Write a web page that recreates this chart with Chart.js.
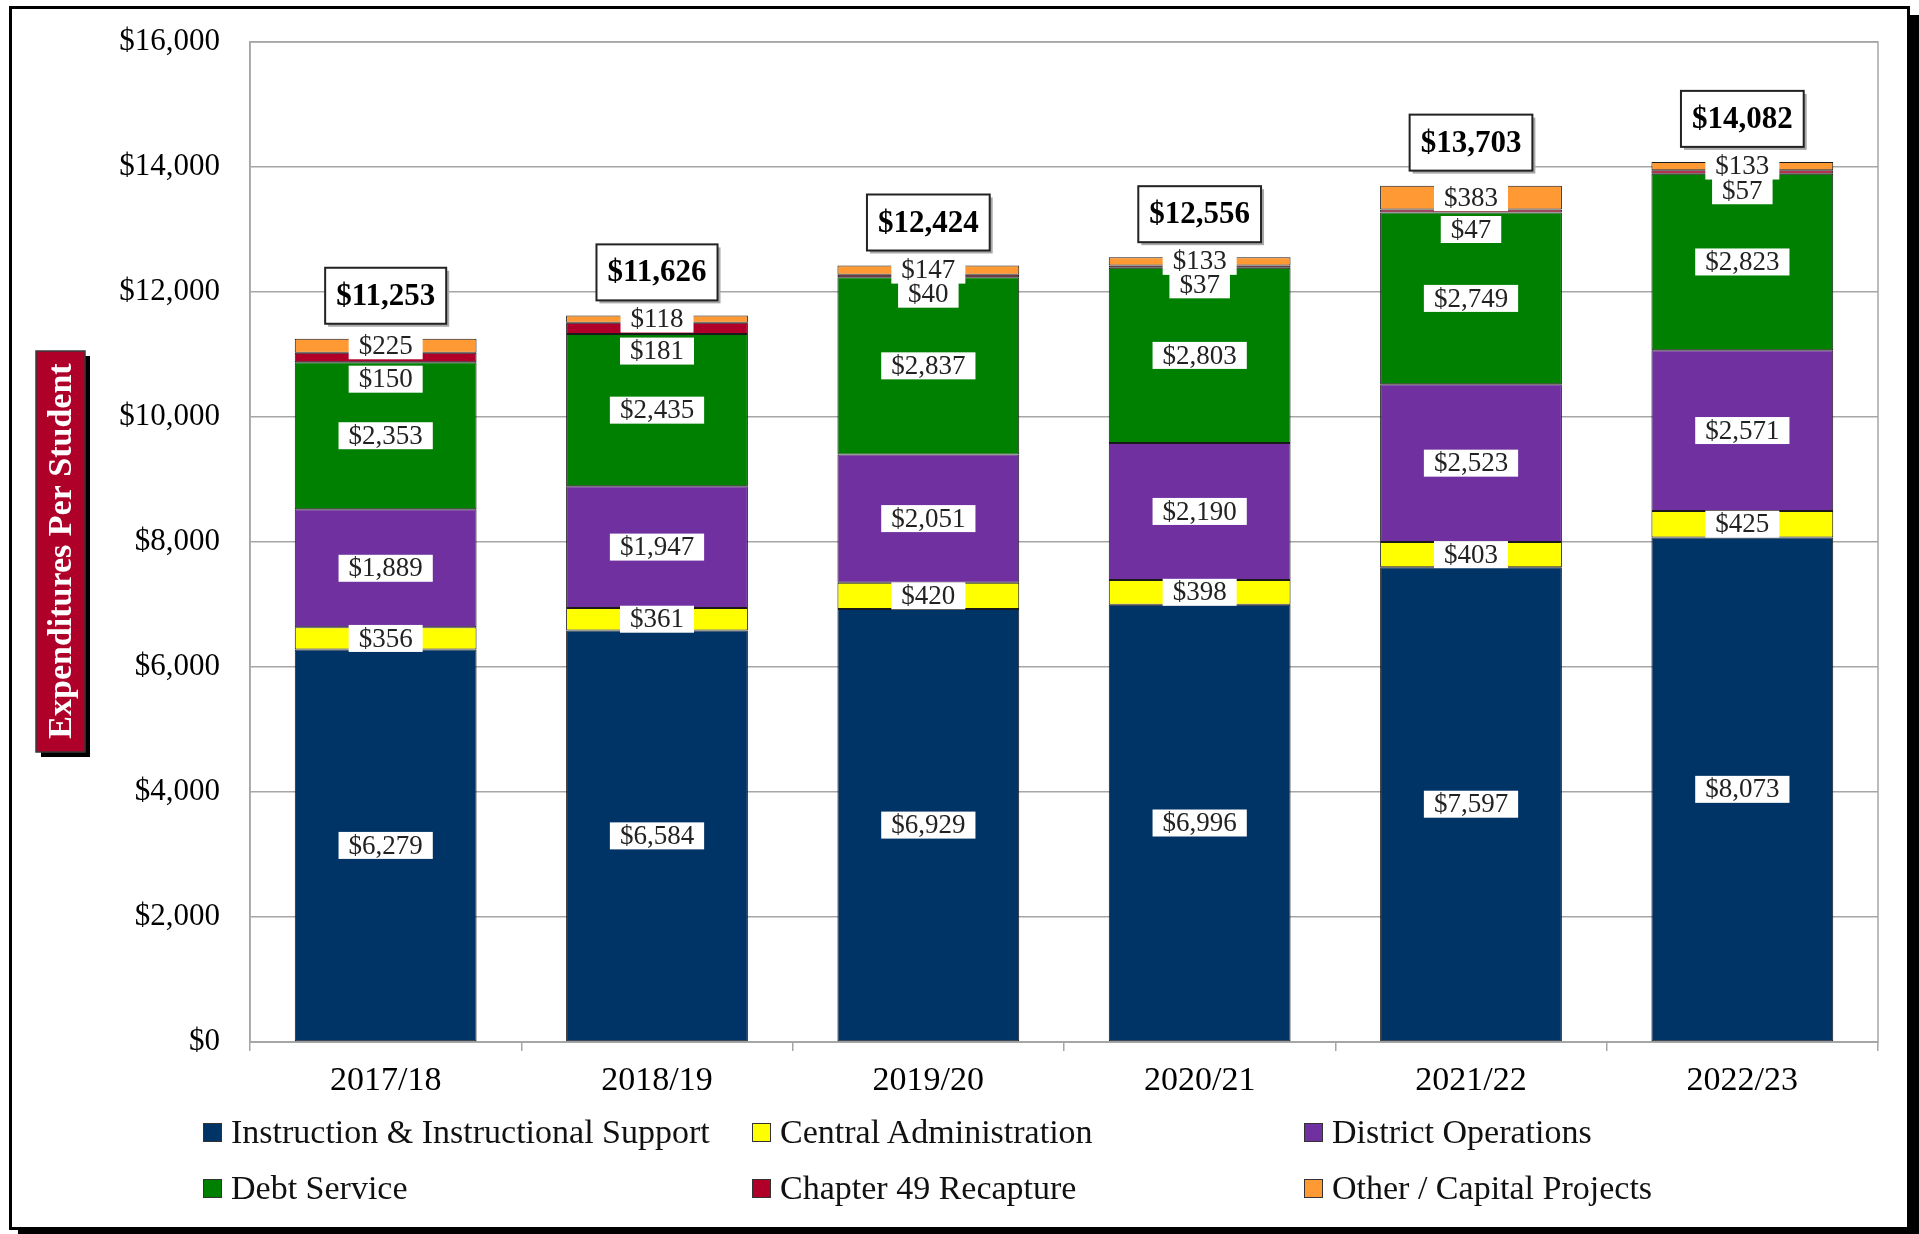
<!DOCTYPE html>
<html>
<head>
<meta charset="utf-8">
<script src="https://cdn.jsdelivr.net/npm/chart.js@4.4.1/dist/chart.umd.min.js"></script>
<style>
    html, body { margin: 0; padding: 0; background: #fff; }
    body { width: 1919px; height: 1234px; position: relative; overflow: hidden; font-family: 'Liberation Serif', serif; }
    #frame { position: absolute; left: 9px; top: 6px; width: 1901px; height: 1224px; box-sizing: border-box;
             border: 3px solid #000; box-shadow: 9px 9px 0 #000; background: #fff; }
    #mainChart { position: absolute; left: 0; top: 0; z-index: 1; }
    .legend-item { position: absolute; z-index: 2; display: flex; align-items: center; font-size: 34px; color: #111; white-space: nowrap; }
    .legend-item span.sw { display: inline-block; width: 17px; height: 17px; border: 1px solid #333; margin-right: 9px; }
</style>
</head>
<body>
<div id="frame"></div>
<canvas id="mainChart" width="1919" height="1234"></canvas>
<div id="legend"></div>
<script>
// Chart data
const years = ['2017/18', '2018/19', '2019/20', '2020/21', '2021/22', '2022/23'];
const instruction = [6279, 6584, 6929, 6996, 7597, 8073];
const centralAdmin = [356, 361, 420, 398, 403, 425];
const districtOps = [1889, 1947, 2051, 2190, 2523, 2571];
const debtService = [2353, 2435, 2837, 2803, 2749, 2823];
const recapture = [150, 181, 40, 37, 47, 57];
const otherCapital = [225, 118, 147, 133, 383, 133];
const totals = [11253, 11626, 12424, 12556, 13703, 14082];

const seriesNames = ['Instruction & Instructional Support', 'Central Administration', 'District Operations',
    'Debt Service', 'Chapter 49 Recapture', 'Other / Capital Projects'];
const seriesColors = ['#003366', '#ffff00', '#7030a0', '#008000', '#b0002a', '#ff9933'];
const seriesValues = [instruction, centralAdmin, districtOps, debtService, recapture, otherCapital];

const FONT = "'Liberation Serif', serif";
const fmt = v => '$' + v.toLocaleString('en-US');

// white boxed value labels + bold total boxes
const labelPlugin = {
    id: 'valueLabels',
    afterDatasetsDraw(chart) {
        const ctx = chart.ctx;
        ctx.save();
        ctx.textAlign = 'center';
        ctx.textBaseline = 'middle';
        ctx.font = '27px ' + FONT;
        chart.data.datasets.forEach((ds, i) => {
            const meta = chart.getDatasetMeta(i);
            meta.data.forEach((el, j) => {
                const text = fmt(ds.data[j]);
                let y = (el.y + el.base) / 2;
                if (i === 4) y = el.base + 17; // recapture label sits under its thin segment
                const w = ctx.measureText(text).width + 20;
                ctx.fillStyle = '#fff';
                ctx.fillRect(el.x - w / 2, y - 13.5, w, 27);
                ctx.fillStyle = '#222';
                ctx.fillText(text, el.x, y + 1);
            });
        });

        // totals
        const top = chart.getDatasetMeta(chart.data.datasets.length - 1);
        ctx.font = 'bold 31px ' + FONT;
        top.data.forEach((el, j) => {
            const text = fmt(totals[j]);
            const w = ctx.measureText(text).width + 22;
            const h = 56;
            const bx = el.x - w / 2, by = el.y - 15 - h;
            ctx.fillStyle = '#a8a8a8';
            ctx.fillRect(bx + 3, by + 3, w, h);
            ctx.fillStyle = '#fff';
            ctx.fillRect(bx, by, w, h);
            ctx.lineWidth = 2;
            ctx.strokeStyle = '#222';
            ctx.strokeRect(bx, by, w, h);
            ctx.fillStyle = '#000';
            ctx.fillText(text, el.x, by + h / 2 + 1);
        });
        ctx.restore();
    }
};

// plot frame and boxed axis title
const framePlugin = {
    id: 'plotFrame',
    beforeDatasetsDraw(chart) {
        const { ctx, chartArea: a } = chart;
        ctx.save();
        ctx.strokeStyle = '#a6a6a6';
        ctx.lineWidth = 1.5;
        ctx.strokeRect(a.left, a.top, a.right - a.left, a.bottom - a.top);
        ctx.restore();
    },
    afterDraw(chart) {
        const ctx = chart.ctx;
        ctx.save();
        ctx.fillStyle = '#000';
        ctx.fillRect(41, 356, 49, 401);
        ctx.fillStyle = '#ae0028';
        ctx.fillRect(36, 351, 49, 401);
        ctx.strokeStyle = '#3a3a3a';
        ctx.lineWidth = 1.5;
        ctx.strokeRect(36, 351, 49, 401);
        ctx.translate(61, 551);
        ctx.rotate(-Math.PI / 2);
        ctx.fillStyle = '#fff';
        ctx.font = 'bold 34px ' + FONT;
        ctx.textAlign = 'center';
        ctx.textBaseline = 'middle';
        ctx.fillText('Expenditures Per Student', 0, 1);
        ctx.restore();
    }
};

Chart.defaults.font.family = FONT;
Chart.defaults.color = '#000';

const ctx = document.getElementById('mainChart').getContext('2d');
const chart = new Chart(ctx, {
    type: 'bar',
    data: {
        labels: years,
        datasets: seriesNames.map((name, i) => ({
            label: name,
            data: seriesValues[i],
            backgroundColor: seriesColors[i],
            borderColor: '#1a1a1a',
            borderWidth: 1,
            borderSkipped: false,
            barPercentage: 0.67,
            categoryPercentage: 1
        }))
    },
    options: {
        responsive: false,
        animation: false,
        devicePixelRatio: 1,
        layout: { padding: { left: 0, top: 42, right: 41, bottom: 132 } },
        plugins: { legend: { display: false }, tooltip: { enabled: false } },
        scales: {
            x: {
                stacked: true,
                afterFit: s => { s.height = 60; },
                grid: { drawOnChartArea: false, drawTicks: true, tickLength: 9, color: '#a6a6a6', lineWidth: 1.5 },
                border: { color: '#a6a6a6', width: 2 },
                ticks: { font: { size: 34 }, padding: 10, color: '#000' }
            },
            y: {
                stacked: true,
                min: 0,
                max: 16000,
                afterFit: s => { s.width = 250; },
                // invisible tick marks give the label gap without inflating the top padding
                grid: { color: '#a6a6a6', lineWidth: 1.5, drawTicks: true, tickLength: 24, tickColor: 'rgba(0,0,0,0)' },
                border: { color: '#a6a6a6', width: 1.5 },
                ticks: { stepSize: 2000, padding: 6, font: { size: 31 }, color: '#000', callback: v => fmt(v) }
            }
        }
    },
    plugins: [framePlugin, labelPlugin]
});

// legend in three columns, two rows
const legendCols = [203, 752, 1304];
const legendRows = [1132, 1188];
const legendEl = document.getElementById('legend');
seriesNames.forEach((name, i) => {
    const item = document.createElement('div');
    item.className = 'legend-item';
    item.style.left = legendCols[i % 3] + 'px';
    item.style.top = (legendRows[Math.floor(i / 3)] - 20) + 'px';
    item.style.height = '40px';
    item.innerHTML = `<span class="sw" style="background:${seriesColors[i]}"></span>${name}`;
    legendEl.appendChild(item);
});
</script>
</body>
</html>
